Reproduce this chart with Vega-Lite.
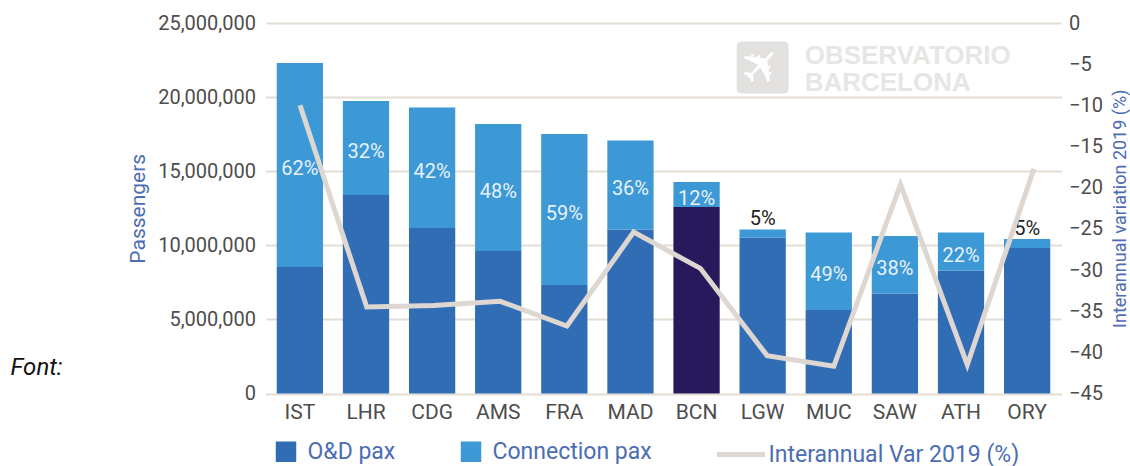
{
"$schema":"https://vega.github.io/schema/vega-lite/v6.json",
"width":796,"height":370.5,
"autosize":"none",
"padding":{"left":265.5,"top":23,"right":68.5,"bottom":72.5},
"background":"white",
"title":{"text":"Font:","orient":"bottom","anchor":"start","frame":"group","dx":-255,"dy":-115,"font":"Roboto","fontStyle":"italic","fontWeight":"normal","fontSize":24,"color":"#111111"},
"config":{"view":{"stroke":null},"font":"Roboto"},
"datasets":{
"airports":[
{"airport":"IST","O&D pax":8540000,"Connection pax":13760000,"share":"62%","var2019":-10.0},
{"airport":"LHR","O&D pax":13390000,"Connection pax":6350000,"share":"32%","var2019":-34.5},
{"airport":"CDG","O&D pax":11170000,"Connection pax":8130000,"share":"42%","var2019":-34.3},
{"airport":"AMS","O&D pax":9620000,"Connection pax":8560000,"share":"48%","var2019":-33.8},
{"airport":"FRA","O&D pax":7320000,"Connection pax":10190000,"share":"59%","var2019":-36.8},
{"airport":"MAD","O&D pax":11070000,"Connection pax":6000000,"share":"36%","var2019":-25.4},
{"airport":"BCN","O&D pax":12580000,"Connection pax":1690000,"share":"12%","var2019":-29.8},
{"airport":"LGW","O&D pax":10530000,"Connection pax":540000,"share":"5%","var2019":-40.4},
{"airport":"MUC","O&D pax":5630000,"Connection pax":5230000,"share":"49%","var2019":-41.7},
{"airport":"SAW","O&D pax":6750000,"Connection pax":3880000,"share":"38%","var2019":-19.6},
{"airport":"ATH","O&D pax":8300000,"Connection pax":2560000,"share":"22%","var2019":-41.5},
{"airport":"ORY","O&D pax":9820000,"Connection pax":610000,"share":"5%","var2019":-17.7}
]},
"resolve":{"scale":{"y":"independent","x":"independent","color":"independent"}},
"layer":[
{
"layer":[
{"data":{"name":"airports"},
 "transform":[{"fold":["O&D pax","Connection pax"],"as":["paxType","pax"]},
   {"calculate":"datum.paxType==='O&D pax'?0:1","as":"stackRank"}],
 "mark":{"type":"bar"},
 "encoding":{
  "x":{"field":"airport","type":"nominal","sort":null,"title":null,
    "scale":{"paddingInner":0.3,"paddingOuter":0.17},
    "axis":{"domain":false,"ticks":false,"labelAngle":0,"labelFontSize":21,"labelColor":"#4D4D4D","labelPadding":8,"labelFont":"Roboto","zindex":0}},
  "y":{"field":"pax","type":"quantitative","stack":"zero","title":"Passengers",
    "scale":{"domain":[0,25000000],"nice":false},
    "axis":{"values":[0,5000000,10000000,15000000,20000000,25000000],"labelExpr":"format(datum.value,',')","domain":false,"ticks":false,"grid":true,"gridColor":"#E4DDD6","gridWidth":2,"labelFontSize":20,"labelColor":"#4D4D4D","labelPadding":10,"titleFontSize":21,"titleFontWeight":"normal","titleColor":"#4C6DB4","titlePadding":9,"zindex":0}},
  "order":{"field":"stackRank","type":"quantitative"},
  "color":{"condition":{"test":"datum.airport==='BCN'&&datum.paxType==='O&D pax'","value":"#27195C"},
    "field":"paxType","type":"nominal",
    "scale":{"domain":["O&D pax","Connection pax"],"range":["#316DB5","#3D98D6"]},
    "legend":{"title":null,"orient":"none","legendX":9,"legendY":417,"direction":"horizontal","symbolType":"square","symbolSize":420,"symbolStrokeWidth":0,"labelFontSize":23,"labelColor":"#4C6DB4","columnPadding":64,"labelOffset":10}}
 }},
{"data":{"values":[{"airport":"LGW","pax":22000000,"icon":"✈"}]},
 "mark":{"type":"point","filled":true,"opacity":1,"color":"#E2E1DF","size":2704,"shape":"M-0.8,-1 L0.8,-1 Q1,-1 1,-0.8 L1,0.8 Q1,1 0.8,1 L-0.8,1 Q-1,1 -1,0.8 L-1,-0.8 Q-1,-1 -0.8,-1 Z"},
 "encoding":{"x":{"field":"airport","type":"nominal","sort":null},"y":{"field":"pax","type":"quantitative","scale":{"domain":[0,25000000],"nice":false}}}},
{"data":{"values":[{"airport":"LGW","pax":22000000,"icon":"✈"}]},
 "mark":{"type":"text","font":"DejaVu Sans","fontSize":50,"color":"#FFFFFF","align":"center","baseline":"middle","angle":-45},
 "encoding":{"x":{"field":"airport","type":"nominal","sort":null},"y":{"field":"pax","type":"quantitative","scale":{"domain":[0,25000000],"nice":false}},"text":{"field":"icon"}}},
{"data":{"values":[{"airport":"LGW","pax":22780000,"mark":"OBSERVATORIO"},{"airport":"LGW","pax":20930000,"mark":"BARCELONA"}]},
 "mark":{"type":"text","font":"Liberation Sans","fontWeight":"bold","fontSize":26,"color":"#E8E6E4","align":"left","baseline":"middle","dx":42},
 "encoding":{"x":{"field":"airport","type":"nominal","sort":null},"y":{"field":"pax","type":"quantitative","scale":{"domain":[0,25000000],"nice":false}},"text":{"field":"mark"}}},
{"data":{"name":"airports"},
 "transform":[{"filter":"datum['Connection pax']>1000000"},{"calculate":"datum['O&D pax']+datum['Connection pax']/2","as":"mid"}],
 "mark":{"type":"text","color":"#E6F1FA","fontSize":20,"baseline":"middle","dy":4},
 "encoding":{"x":{"field":"airport","type":"nominal","sort":null},"y":{"field":"mid","type":"quantitative","scale":{"domain":[0,25000000],"nice":false}},"text":{"field":"share"}}},
{"data":{"name":"airports"},
 "transform":[{"filter":"datum['Connection pax']<=1000000"},{"calculate":"datum['O&D pax']+datum['Connection pax']","as":"top"}],
 "mark":{"type":"text","color":"#222222","fontSize":20,"baseline":"bottom","dy":0},
 "encoding":{"x":{"field":"airport","type":"nominal","sort":null},"y":{"field":"top","type":"quantitative","scale":{"domain":[0,25000000],"nice":false}},"text":{"field":"share"}}}
]},
{"data":{"name":"airports"},
 "mark":{"type":"line","strokeWidth":5,"strokeJoin":"miter"},
 "encoding":{
  "x":{"field":"airport","type":"nominal","sort":null,"axis":null,
    "scale":{"type":"point","range":[34.5,768.5],"padding":0}},
  "y":{"field":"var2019","type":"quantitative","title":"Interannual variation 2019 (%)",
    "scale":{"domain":[-45,0]},
    "axis":{"orient":"right","values":[0,-5,-10,-15,-20,-25,-30,-35,-40,-45],"domain":false,"ticks":false,"grid":false,"labelFontSize":20,"labelColor":"#4D4D4D","labelPadding":7,"titleFontSize":18,"titleFontWeight":"normal","titleColor":"#4C6DB4","titlePadding":27,"titleAngle":270}},
  "stroke":{"datum":"Interannual Var 2019 (%)","type":"nominal",
    "scale":{"domain":["Interannual Var 2019 (%)"],"range":["#DED6D0"]},
    "legend":{"title":null,"orient":"none","legendX":449,"legendY":405,"symbolType":"stroke","symbolSize":2304,"symbolStrokeWidth":5,"labelFontSize":23,"labelColor":"#4C6DB4","labelOffset":1,"labelLimit":300}}
 }}
]
}
